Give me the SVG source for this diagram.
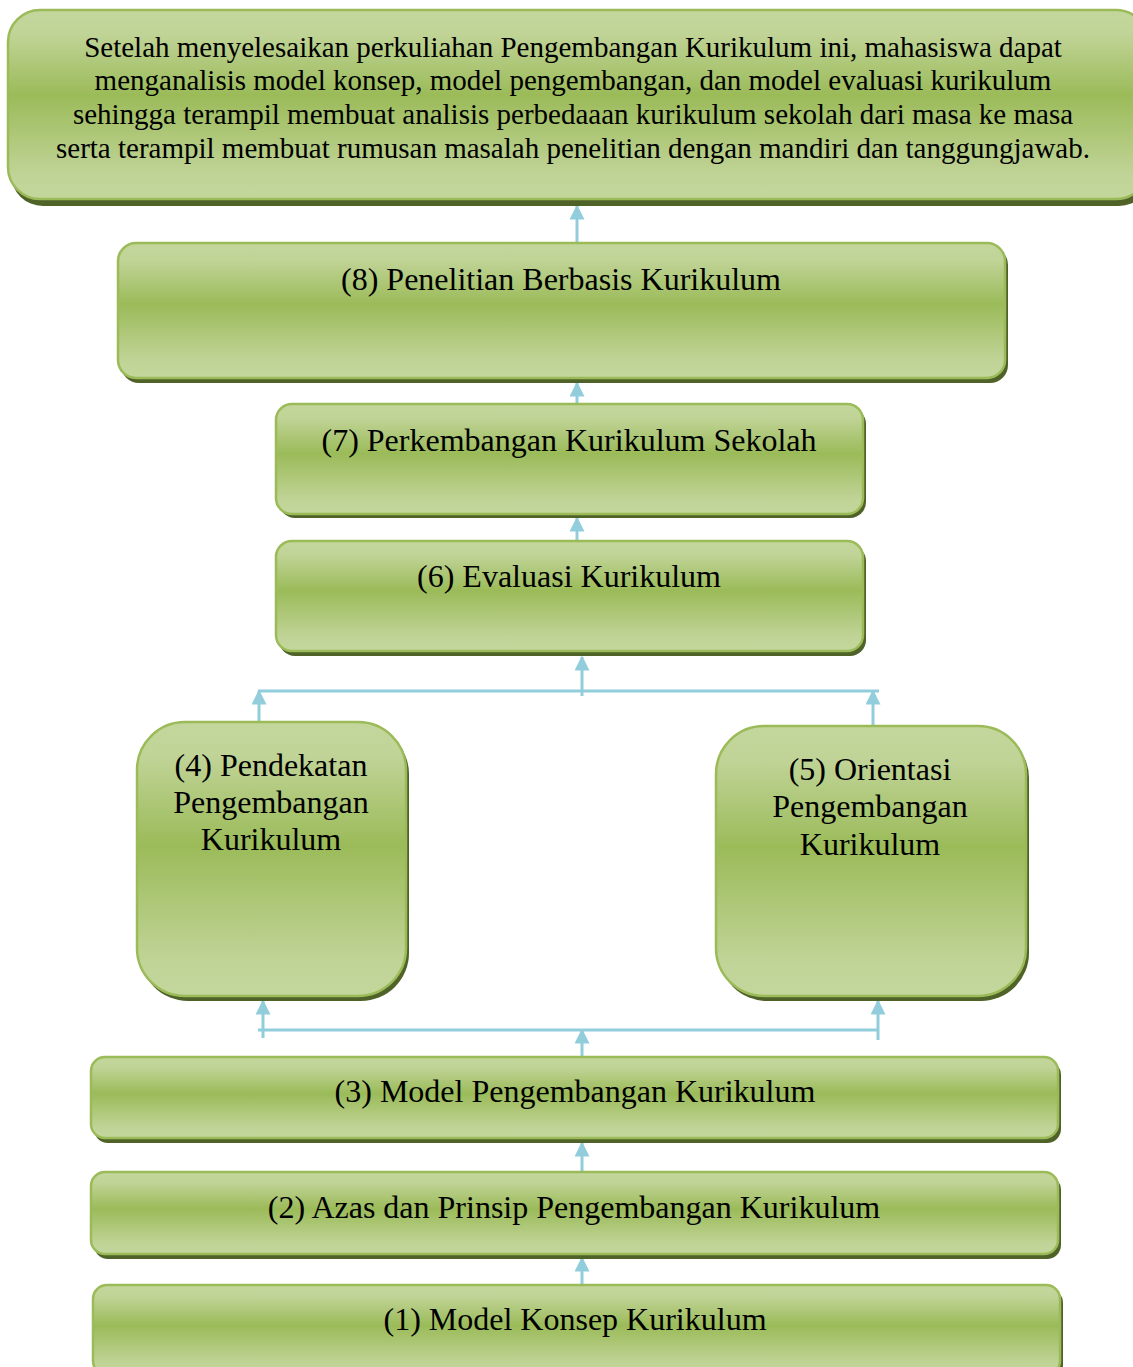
<svg xmlns="http://www.w3.org/2000/svg" width="1133" height="1367" viewBox="0 0 1133 1367">
  <style>
    .shadow { fill: #4f6228; }
    .box { fill: url(#green); stroke: #9bbb59; stroke-width: 2.5; }
    .label { font-family: "Liberation Serif", "Times New Roman", serif; font-size: 32px; fill: #000; text-anchor: middle; }
    .goal { font-family: "Liberation Serif", "Times New Roman", serif; font-size: 29px; fill: #000; text-anchor: middle; }
    .link { stroke: #92cddc; stroke-width: 3; fill: none; }
    .head { fill: #92cddc; }
  </style>
  <defs>
    <linearGradient id="green" x1="0" y1="0" x2="0" y2="1">
      <stop offset="0" stop-color="#c3d69b"/>
      <stop offset="0.12" stop-color="#c1d498"/>
      <stop offset="0.45" stop-color="#9bbb59"/>
      <stop offset="0.88" stop-color="#c1d498"/>
      <stop offset="1" stop-color="#c3d69b"/>
    </linearGradient>
    <marker id="arrow" viewBox="0 0 10 10" refX="9" refY="5" markerWidth="5" markerHeight="5" orient="auto" markerUnits="strokeWidth">
      <path d="M0,0 L10,5 L0,10 z" class="head"/>
    </marker>
  </defs>

  <!-- connectors -->
  <g id="connectors">
    <line class="link" x1="577" y1="243" x2="577" y2="206" marker-end="url(#arrow)"/>
    <line class="link" x1="577" y1="404" x2="577" y2="383" marker-end="url(#arrow)"/>
    <line class="link" x1="577" y1="541" x2="577" y2="518" marker-end="url(#arrow)"/>
    <!-- upper bus: (4) and (5) into (6) -->
    <line class="link" x1="258" y1="691" x2="879" y2="691"/>
    <line class="link" x1="582" y1="696" x2="582" y2="657" marker-end="url(#arrow)"/>
    <line class="link" x1="259" y1="722" x2="259" y2="691" marker-end="url(#arrow)"/>
    <line class="link" x1="873" y1="726" x2="873" y2="691" marker-end="url(#arrow)"/>
    <!-- lower bus: (3) into (4) and (5) -->
    <line class="link" x1="258" y1="1030" x2="878" y2="1030"/>
    <line class="link" x1="582" y1="1057" x2="582" y2="1030" marker-end="url(#arrow)"/>
    <line class="link" x1="263" y1="1038" x2="263" y2="1001" marker-end="url(#arrow)"/>
    <line class="link" x1="878" y1="1040" x2="878" y2="1001" marker-end="url(#arrow)"/>
    <line class="link" x1="582" y1="1172" x2="582" y2="1143" marker-end="url(#arrow)"/>
    <line class="link" x1="582" y1="1285" x2="582" y2="1258" marker-end="url(#arrow)"/>
  </g>

  <!-- learning goal -->
  <g id="goal">
    <rect class="shadow" x="11" y="14" width="1140" height="192" rx="32"/>
    <rect class="box" x="8" y="10" width="1140" height="189" rx="32"/>
    <text class="goal" x="573" y="57">Setelah menyelesaikan perkuliahan Pengembangan Kurikulum ini, mahasiswa dapat</text>
    <text class="goal" x="573" y="90">menganalisis model konsep, model pengembangan, dan model evaluasi kurikulum</text>
    <text class="goal" x="573" y="124">sehingga terampil membuat analisis perbedaaan kurikulum sekolah dari masa ke masa</text>
    <text class="goal" x="573" y="158">serta terampil membuat rumusan masalah penelitian dengan mandiri dan tanggungjawab.</text>
  </g>

  <g id="node8">
    <rect class="shadow" x="121" y="247" width="887" height="136" rx="18"/>
    <rect class="box" x="118" y="243" width="887" height="135" rx="18"/>
    <text class="label" x="561" y="290">(8) Penelitian Berbasis Kurikulum</text>
  </g>

  <g id="node7">
    <rect class="shadow" x="279" y="408" width="587" height="110" rx="16"/>
    <rect class="box" x="276" y="404" width="587" height="110" rx="16"/>
    <text class="label" x="569" y="451">(7) Perkembangan Kurikulum Sekolah</text>
  </g>

  <g id="node6">
    <rect class="shadow" x="279" y="545" width="587" height="111" rx="16"/>
    <rect class="box" x="276" y="541" width="587" height="110" rx="16"/>
    <text class="label" x="569" y="587">(6) Evaluasi Kurikulum</text>
  </g>

  <g id="node4">
    <rect class="shadow" x="140" y="726" width="269" height="275" rx="48"/>
    <rect class="box" x="137" y="722" width="269" height="274" rx="48"/>
    <text class="label" x="271" y="776">(4) Pendekatan</text>
    <text class="label" x="271" y="813">Pengembangan</text>
    <text class="label" x="271" y="850">Kurikulum</text>
  </g>

  <g id="node5">
    <rect class="shadow" x="719" y="730" width="310" height="271" rx="48"/>
    <rect class="box" x="716" y="726" width="310" height="270" rx="48"/>
    <text class="label" x="870" y="780">(5) Orientasi</text>
    <text class="label" x="870" y="817">Pengembangan</text>
    <text class="label" x="870" y="855">Kurikulum</text>
  </g>

  <g id="node3">
    <rect class="shadow" x="94" y="1061" width="967" height="82" rx="14"/>
    <rect class="box" x="91" y="1057" width="967" height="81" rx="14"/>
    <text class="label" x="575" y="1102">(3) Model Pengembangan Kurikulum</text>
  </g>

  <g id="node2">
    <rect class="shadow" x="94" y="1176" width="967" height="83" rx="14"/>
    <rect class="box" x="91" y="1172" width="967" height="82" rx="14"/>
    <text class="label" x="574" y="1218">(2) Azas dan Prinsip Pengembangan Kurikulum</text>
  </g>

  <g id="node1">
    <rect class="shadow" x="96" y="1289" width="967" height="90" rx="14"/>
    <rect class="box" x="93" y="1285" width="967" height="90" rx="14"/>
    <text class="label" x="575" y="1330">(1) Model Konsep Kurikulum</text>
  </g>
</svg>
